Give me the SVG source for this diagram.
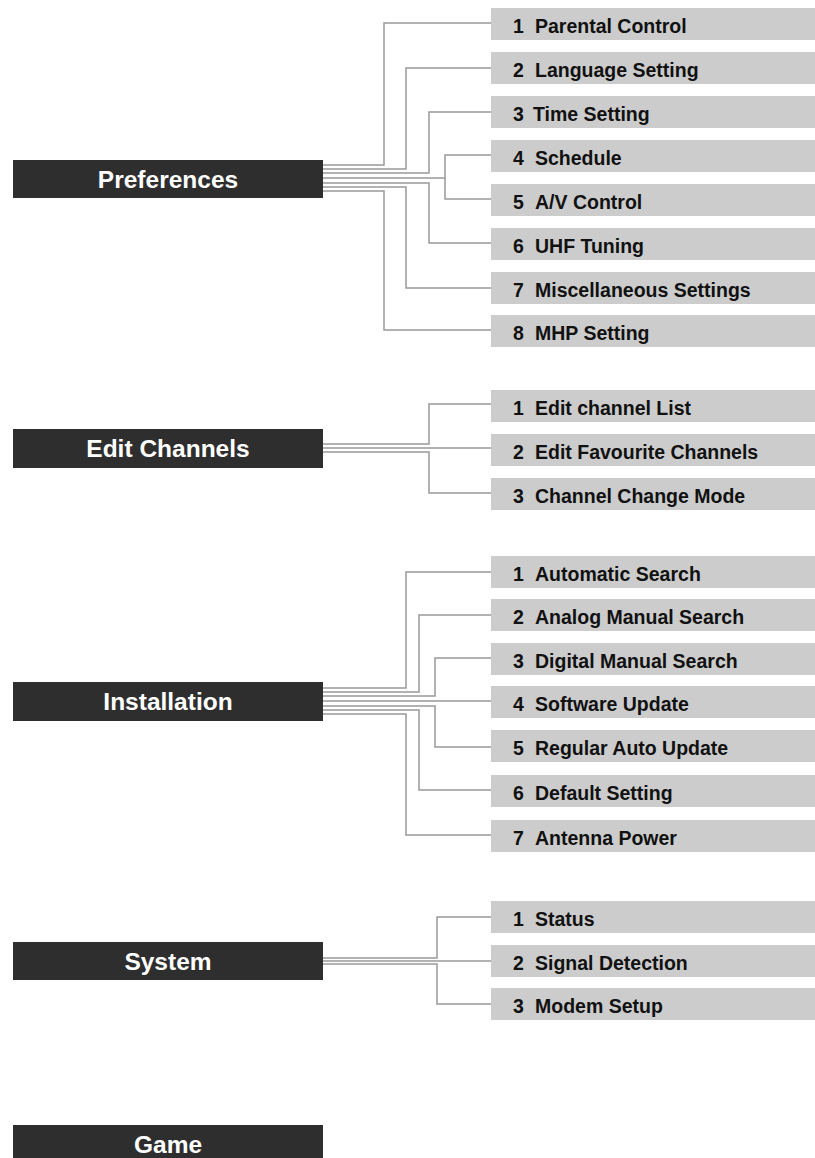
<svg xmlns="http://www.w3.org/2000/svg" width="815" height="1158" viewBox="0 0 815 1158">
<style>
.main{fill:#2e2e2e}
.mt{fill:#ffffff;font-family:"Liberation Sans",Arial,sans-serif;font-weight:bold;font-size:24.5px;text-anchor:middle}
.sub{fill:#cccccc}
.st{fill:#111111;font-family:"Liberation Sans",Arial,sans-serif;font-weight:bold;font-size:19.5px}
.c{fill:none;stroke:#999999;stroke-width:1.5}
</style>
<rect width="815" height="1158" fill="#ffffff"/>
<g id="connectors">
<polyline class="c" points="322,165 384,165 384,23 491,23"/>
<polyline class="c" points="322,169 406,169 406,68 491,68"/>
<polyline class="c" points="322,173 429,173 429,112 491,112"/>
<polyline class="c" points="322,178 445,178 445,155 491,155"/>
<polyline class="c" points="445,178 445,199 491,199"/>
<polyline class="c" points="322,183 429,183 429,243 491,243"/>
<polyline class="c" points="322,187 406,187 406,288 491,288"/>
<polyline class="c" points="322,191 384,191 384,330 491,330"/>
<polyline class="c" points="322,444 429,444 429,404 491,404"/>
<polyline class="c" points="322,448 491,448"/>
<polyline class="c" points="322,452 429,452 429,493 491,493"/>
<polyline class="c" points="322,688 406,688 406,572 491,572"/>
<polyline class="c" points="322,692 419,692 419,615 491,615"/>
<polyline class="c" points="322,696 435,696 435,658 491,658"/>
<polyline class="c" points="322,701 491,701"/>
<polyline class="c" points="322,706 435,706 435,747 491,747"/>
<polyline class="c" points="322,710 419,710 419,790 491,790"/>
<polyline class="c" points="322,714 406,714 406,835 491,835"/>
<polyline class="c" points="322,958 437,958 437,917 491,917"/>
<polyline class="c" points="322,961 491,961"/>
<polyline class="c" points="322,964 437,964 437,1004 491,1004"/>
</g>
<g id="preferences"><rect class="main" x="13" y="160" width="310" height="38"/><text class="mt" x="168" y="188">Preferences</text></g>
<g id="pref-1"><rect class="sub" x="491" y="8" width="324" height="32"/><text class="st" y="33"><tspan x="513">1</tspan><tspan x="535">Parental Control</tspan></text></g>
<g id="pref-2"><rect class="sub" x="491" y="52" width="324" height="32"/><text class="st" y="77"><tspan x="513">2</tspan><tspan x="535">Language Setting</tspan></text></g>
<g id="pref-3"><rect class="sub" x="491" y="96" width="324" height="32"/><text class="st" y="121"><tspan x="513">3</tspan><tspan x="533">Time Setting</tspan></text></g>
<g id="pref-4"><rect class="sub" x="491" y="140" width="324" height="32"/><text class="st" y="165"><tspan x="513">4</tspan><tspan x="535">Schedule</tspan></text></g>
<g id="pref-5"><rect class="sub" x="491" y="184" width="324" height="32"/><text class="st" y="209"><tspan x="513">5</tspan><tspan x="535">A/V Control</tspan></text></g>
<g id="pref-6"><rect class="sub" x="491" y="228" width="324" height="32"/><text class="st" y="253"><tspan x="513">6</tspan><tspan x="535">UHF Tuning</tspan></text></g>
<g id="pref-7"><rect class="sub" x="491" y="272" width="324" height="32"/><text class="st" y="297"><tspan x="513">7</tspan><tspan x="535">Miscellaneous Settings</tspan></text></g>
<g id="pref-8"><rect class="sub" x="491" y="315" width="324" height="32"/><text class="st" y="340"><tspan x="513">8</tspan><tspan x="535">MHP Setting</tspan></text></g>
<g id="edit-channels"><rect class="main" x="13" y="429" width="310" height="39"/><text class="mt" x="168" y="457">Edit Channels</text></g>
<g id="edit-1"><rect class="sub" x="491" y="390" width="324" height="32"/><text class="st" y="415"><tspan x="513">1</tspan><tspan x="535">Edit channel List</tspan></text></g>
<g id="edit-2"><rect class="sub" x="491" y="434" width="324" height="32"/><text class="st" y="459"><tspan x="513">2</tspan><tspan x="535">Edit Favourite Channels</tspan></text></g>
<g id="edit-3"><rect class="sub" x="491" y="478" width="324" height="32"/><text class="st" y="503"><tspan x="513">3</tspan><tspan x="535">Channel Change Mode</tspan></text></g>
<g id="installation"><rect class="main" x="13" y="682" width="310" height="39"/><text class="mt" x="168" y="710">Installation</text></g>
<g id="inst-1"><rect class="sub" x="491" y="556" width="324" height="32"/><text class="st" y="581"><tspan x="513">1</tspan><tspan x="535">Automatic Search</tspan></text></g>
<g id="inst-2"><rect class="sub" x="491" y="599" width="324" height="32"/><text class="st" y="624"><tspan x="513">2</tspan><tspan x="535">Analog Manual Search</tspan></text></g>
<g id="inst-3"><rect class="sub" x="491" y="643" width="324" height="32"/><text class="st" y="668"><tspan x="513">3</tspan><tspan x="535">Digital Manual Search</tspan></text></g>
<g id="inst-4"><rect class="sub" x="491" y="686" width="324" height="32"/><text class="st" y="711"><tspan x="513">4</tspan><tspan x="535">Software Update</tspan></text></g>
<g id="inst-5"><rect class="sub" x="491" y="730" width="324" height="32"/><text class="st" y="755"><tspan x="513">5</tspan><tspan x="535">Regular Auto Update</tspan></text></g>
<g id="inst-6"><rect class="sub" x="491" y="775" width="324" height="32"/><text class="st" y="800"><tspan x="513">6</tspan><tspan x="535">Default Setting</tspan></text></g>
<g id="inst-7"><rect class="sub" x="491" y="820" width="324" height="32"/><text class="st" y="845"><tspan x="513">7</tspan><tspan x="535">Antenna Power</tspan></text></g>
<g id="system"><rect class="main" x="13" y="942" width="310" height="38"/><text class="mt" x="168" y="970">System</text></g>
<g id="sys-1"><rect class="sub" x="491" y="901" width="324" height="32"/><text class="st" y="926"><tspan x="513">1</tspan><tspan x="535">Status</tspan></text></g>
<g id="sys-2"><rect class="sub" x="491" y="945" width="324" height="32"/><text class="st" y="970"><tspan x="513">2</tspan><tspan x="535">Signal Detection</tspan></text></g>
<g id="sys-3"><rect class="sub" x="491" y="988" width="324" height="32"/><text class="st" y="1013"><tspan x="513">3</tspan><tspan x="535">Modem Setup</tspan></text></g>
<g id="game"><rect class="main" x="13" y="1125" width="310" height="40"/><text class="mt" x="168" y="1153">Game</text></g>
</svg>
